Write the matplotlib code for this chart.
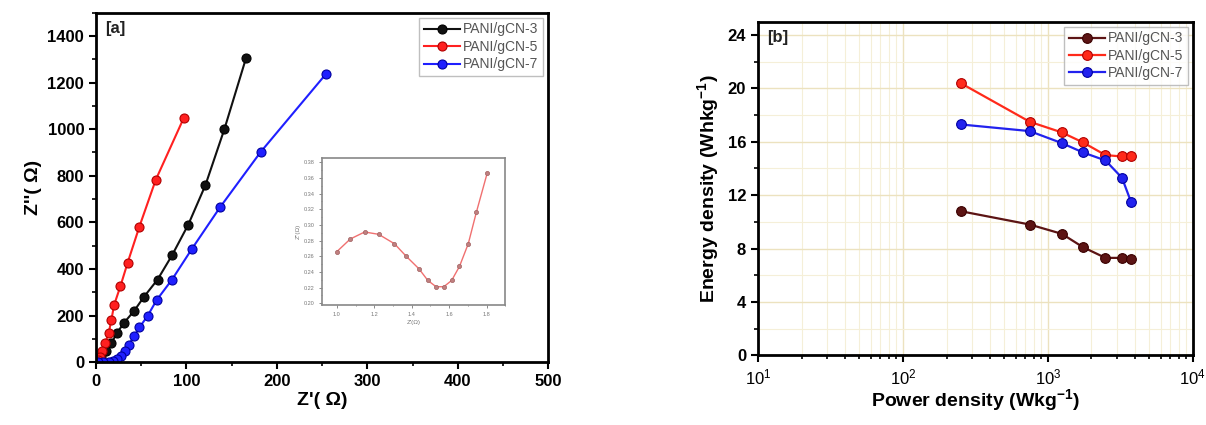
import numpy as np
import matplotlib
matplotlib.use("Agg")
import matplotlib.pyplot as plt
from matplotlib.ticker import MultipleLocator, LogLocator, NullFormatter

plt.rcParams['font.family'] = ['Liberation Sans', 'DejaVu Sans']
plt.rcParams['mathtext.fontset'] = 'custom'
plt.rcParams['mathtext.rm'] = 'Liberation Sans'
plt.rcParams['mathtext.bf'] = 'Liberation Sans:bold'

# ---- panel [a] : Nyquist data
labels = ['PANI/gCN-3', 'PANI/gCN-5', 'PANI/gCN-7']

z3_re = [166, 142, 121, 102, 84, 68, 53, 42, 31, 23, 17, 11, 6, 3, 1]
z3_im = [1307, 1001, 760, 590, 458, 354, 280, 219, 169, 124, 81, 46, 24, 10, 1]

z5_re = [97, 66, 48, 35, 27, 20, 17, 14, 10, 7, 4, 2, 0.5]
z5_im = [1048, 782, 582, 427, 326, 245, 181, 124, 81, 46, 24, 10, 1]

z7_re = [254, 182, 137, 106, 84, 67, 57, 48, 42, 36, 32, 28, 23, 19, 14, 8, 2]
z7_im = [1236, 902, 664, 486, 354, 266, 198, 149, 110, 74, 46, 27, 13, 6, 1, 0, 0]

# inset
ins_x = [1.0, 1.071, 1.148, 1.223, 1.307, 1.37, 1.438, 1.486, 1.53, 1.571,
         1.613, 1.655, 1.702, 1.745, 1.804]
ins_y = [0.266, 0.282, 0.291, 0.288, 0.276, 0.260, 0.244, 0.229, 0.221, 0.221,
         0.229, 0.247, 0.276, 0.316, 0.367]

# ---- panel [b] : Ragone data
power = [250, 750, 1250, 1750, 2500, 3250, 3750]
e3 = [10.8, 9.8, 9.1, 8.1, 7.3, 7.3, 7.2]
e5 = [20.4, 17.5, 16.7, 15.95, 15.0, 14.9, 14.9]
e7 = [17.3, 16.8, 15.9, 15.2, 14.6, 13.3, 11.5]

fig = plt.figure(figsize=(12.06, 4.25), dpi=100)

def style_axes(ax):
    for s in ax.spines.values():
        s.set_linewidth(2.0)
    ax.tick_params(which='major', direction='out', length=5, width=1.5,
                   labelsize=12, top=False, right=False)
    ax.tick_params(which='minor', direction='out', length=3, width=1.2,
                   top=False, right=False)
    for t in ax.get_xticklabels() + ax.get_yticklabels():
        t.set_fontweight('bold')

# ---------------- [a]
ax1 = fig.add_axes([0.0796, 0.148, 0.375, 0.822])
cols_a = [('#111111', '#000000'), ('#ff2020', '#b00000'), ('#1f1fff', '#0000a0')]
for xs, ys, lab, (c, ec) in zip([z3_re, z5_re, z7_re], [z3_im, z5_im, z7_im], labels, cols_a):
    ax1.plot(xs, ys, '-o', color=c, lw=1.5, ms=6.5, mfc=c, mec=ec, mew=0.8, label=lab)
ax1.set_xlim(0, 500)
ax1.set_ylim(0, 1500)
ax1.set_xticks(np.arange(0, 501, 100))
ax1.set_yticks(np.arange(0, 1401, 200))
ax1.xaxis.set_minor_locator(MultipleLocator(50))
ax1.yaxis.set_minor_locator(MultipleLocator(100))
style_axes(ax1)
ax1.set_xlabel("Z'( \u03a9)", fontsize=14, fontweight='bold', labelpad=2)
ax1.set_ylabel("Z''( \u03a9)", fontsize=14, fontweight='bold', labelpad=4)
ax1.text(0.02, 0.975, '[a]', transform=ax1.transAxes, fontsize=12, fontweight='bold',
         va='top', ha='left', color='#222222')
leg1 = ax1.legend(loc='upper right', fontsize=10, frameon=True, fancybox=False,
                  handlelength=2.6, handletextpad=0.2, borderpad=0.35, labelspacing=0.25,
                  borderaxespad=0.35)
leg1.get_frame().set_edgecolor('#b0b0b0')
leg1.get_frame().set_linewidth(1.0)
for t in leg1.get_texts():
    t.set_color('#555555')

# inset
axi = fig.add_axes([0.267, 0.283, 0.152, 0.346])
axi.plot(ins_x, ins_y, '-o', color='#f07070', lw=1.0, ms=3, mfc='#c08080', mec='#a06060', mew=0.5)
axi.set_xlim(0.92, 1.9)
axi.set_ylim(0.198, 0.386)
axi.set_xticks([1.0, 1.2, 1.4, 1.6, 1.8])
axi.set_yticks(np.arange(0.20, 0.381, 0.02))
axi.xaxis.set_minor_locator(MultipleLocator(0.1))
axi.yaxis.set_minor_locator(MultipleLocator(0.01))
axi.tick_params(which='both', direction='out', labelsize=4, length=2, width=0.6,
                colors='#777777', top=False, right=False)
axi.tick_params(which='minor', length=1)
for s in axi.spines.values():
    s.set_linewidth(1.2)
    s.set_color('#888888')
axi.set_xlabel("Z'(\u03a9)", fontsize=4.5, color='#777777', labelpad=2)
axi.set_ylabel("Z''(\u03a9)", fontsize=4.5, color='#777777', labelpad=2)

# ---------------- [b]
ax2 = fig.add_axes([0.6285, 0.164, 0.3605, 0.785])
ax2.set_xscale('log')
ax2.set_xlim(10, 1e4)
ax2.set_ylim(0, 25)
ax2.set_yticks(np.arange(0, 25, 4))
ax2.yaxis.set_minor_locator(MultipleLocator(2))
ax2.xaxis.set_minor_locator(LogLocator(base=10, subs=np.arange(2, 10)))
ax2.xaxis.set_minor_formatter(NullFormatter())
ax2.grid(which='major', color='#ece2bf', lw=1.0)
ax2.grid(which='minor', color='#f5efd8', lw=0.8)
ax2.set_axisbelow(True)
cols_b = [('#5c1414', '#3a0000'), ('#ff2a1a', '#b00000'), ('#2222ee', '#0000a0')]
for es, lab, (c, ec) in zip([e3, e5, e7], labels, cols_b):
    ax2.plot(power, es, '-o', color=c, lw=1.6, ms=7, mfc=c, mec=ec, mew=0.8, label=lab)
style_axes(ax2)
for t in ax2.get_xticklabels():
    t.set_fontweight('normal')
ax2.set_xlabel('Power density (Wkg$^{\\mathbf{-1}}$)', fontsize=14, fontweight='bold', labelpad=0)
ax2.set_ylabel('Energy density (Whkg$^{\\mathbf{-1}}$)', fontsize=14, fontweight='bold', labelpad=4)
ax2.text(0.02, 0.975, '[b]', transform=ax2.transAxes, fontsize=12, fontweight='bold',
         va='top', ha='left', color='#222222')
leg2 = ax2.legend(loc='upper right', fontsize=10, frameon=True, fancybox=False,
                  handlelength=2.6, handletextpad=0.2, borderpad=0.35, labelspacing=0.25,
                  borderaxespad=0.35)
leg2.get_frame().set_edgecolor('#b0b0b0')
leg2.get_frame().set_linewidth(1.0)
for t in leg2.get_texts():
    t.set_color('#555555')

fig.savefig('out.png', dpi=100)
